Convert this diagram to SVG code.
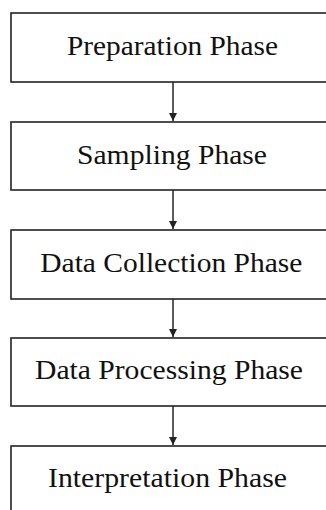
<svg xmlns="http://www.w3.org/2000/svg" width="326" height="510" viewBox="0 0 326 510">
<style>
.box{fill:#fff;stroke:#222;stroke-width:1.6}
.lbl{font-family:'Liberation Serif',Tinos,'Times New Roman',Times,serif;font-size:27px;fill:#111}
.conn{stroke:#333;stroke-width:1.6;fill:none}
</style>
<defs>
<marker id="ah" viewBox="0 0 8 8" refX="8" refY="4" markerWidth="8" markerHeight="8" markerUnits="userSpaceOnUse" orient="auto">
<path d="M0,0 L8,4 L0,8 Z" fill="#222"/>
</marker>
</defs>
<rect width="326" height="510" fill="#fff"/>
<g id="connectors">
<line class="conn" x1="173" y1="82" x2="173" y2="121" marker-end="url(#ah)"/>
<line class="conn" x1="173" y1="190" x2="173" y2="229" marker-end="url(#ah)"/>
<line class="conn" x1="173" y1="299" x2="173" y2="337" marker-end="url(#ah)"/>
<line class="conn" x1="173" y1="406" x2="173" y2="445" marker-end="url(#ah)"/>
</g>
<g id="n1">
<rect class="box" x="11" y="13" width="340" height="69"/>
<text class="lbl" x="172.5" y="55" text-anchor="middle" textLength="211" lengthAdjust="spacingAndGlyphs">Preparation Phase</text>
</g>
<g id="n2">
<rect class="box" x="11" y="122" width="340" height="68"/>
<text class="lbl" x="172" y="164.3" text-anchor="middle" textLength="190" lengthAdjust="spacingAndGlyphs">Sampling Phase</text>
</g>
<g id="n3">
<rect class="box" x="11" y="230" width="340" height="69"/>
<text class="lbl" x="171.3" y="271.7" text-anchor="middle" textLength="262" lengthAdjust="spacingAndGlyphs">Data Collection Phase</text>
</g>
<g id="n4">
<rect class="box" x="11" y="338" width="340" height="68"/>
<text class="lbl" x="169" y="379.3" text-anchor="middle" textLength="268" lengthAdjust="spacingAndGlyphs">Data Processing Phase</text>
</g>
<g id="n5">
<rect class="box" x="11" y="446" width="340" height="69"/>
<text class="lbl" x="167.5" y="487.3" text-anchor="middle" textLength="239" lengthAdjust="spacingAndGlyphs">Interpretation Phase</text>
</g>
</svg>
